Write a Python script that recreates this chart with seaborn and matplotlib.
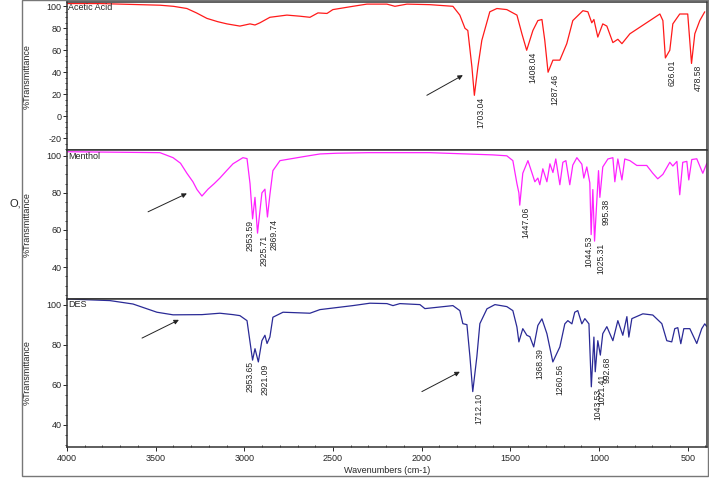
import numpy as np
import pandas as pd
import matplotlib
matplotlib.use("Agg")
import matplotlib.pyplot as plt
import matplotlib.ticker as mticker
from matplotlib.patches import Rectangle
import seaborn as sns

sns.set_style("ticks")
plt.rcParams["font.family"] = ["Liberation Sans", "DejaVu Sans"]
plt.rcParams["axes.unicode_minus"] = False

# --- spectra: wavenumber (cm-1), %T ------------------------------------------
acetic_wn = [4000, 3814, 3476, 3400, 3324, 3270, 3211, 3150, 3098, 3025, 2968,
             2940, 2912, 2856,
             2760, 2687, 2630, 2585, 2534, 2501, 2388, 2309, 2196, 2151, 2083,
             1954, 1824, 1785, 1756, 1740, 1717, 1703.04, 1683, 1661, 1616,
             1576, 1520, 1463, 1435, 1408.04, 1373, 1345, 1322, 1306, 1287.46,
             1260, 1221, 1182, 1148, 1091, 1063, 1041, 1029, 1007, 979, 956,
             922, 894, 871, 826, 657, 640, 626.01, 601, 584, 545, 500, 478.58,
             460, 432, 404]
acetic_t = [102.5, 102.5, 101, 100, 98, 94, 89, 86, 84, 82, 84,
            83, 85, 90,
            92, 91, 90, 94, 93.5, 97, 100, 102, 102, 100, 102,
            101.5, 100, 92, 80, 78, 45, 19, 45, 69, 95,
            98, 97, 92, 75, 60, 78, 87, 88, 69, 40,
            51, 51, 66, 87, 96, 95, 85, 88, 72, 84, 82,
            67, 70, 66, 75, 93, 87, 53, 60, 84, 93, 93, 48,
            75, 87, 95]

menthol_wn = [4000, 3476, 3402, 3360, 3324, 3290, 3267, 3239, 3205, 3170, 3138,
              3100, 3064, 3025, 3008,
              2985, 2968, 2953.59, 2940, 2925.71, 2901, 2884, 2869.74, 2856,
              2839, 2799, 2670, 2574, 2478, 2300, 1954, 1599, 1520, 1486, 1463,
              1452, 1447.06, 1430, 1401, 1379, 1362, 1345, 1334, 1317, 1294,
              1277, 1260, 1244, 1221, 1204, 1187, 1165, 1148, 1125, 1097, 1086,
              1069, 1052, 1044.53, 1035, 1025.31, 1003, 995.38, 979, 950, 922,
              911, 894, 871, 855, 826, 787, 731, 697, 669, 640, 601, 584, 561,
              545, 528, 505, 494, 477, 449, 415, 392]
menthol_t = [102.2, 101.7, 99, 96, 90.6, 86, 81.8, 78.3, 82, 85, 88,
             92, 95.7, 98, 99,
             98.5, 85, 66, 77.6, 58.3, 80, 82, 67, 79,
             92, 97.4, 99.5, 101, 101.4, 101.7, 101.7, 100.5, 100, 97.4, 85,
             80, 73.4, 90.6, 97.4, 91, 86, 88, 84.4, 93, 86,
             95.7, 91, 98.3, 84.4, 96.5, 97.4, 84.4, 95, 99, 95.5, 88,
             94, 85.4, 57.5, 81.8, 54, 92, 77.6, 94, 98.3, 99,
             86, 98.3, 87, 98.3, 97.4, 94.8, 94.8, 90.6, 87.6, 90, 96.5, 94.5, 97,
             79, 96.5, 97, 87, 98, 98.4, 90.6, 96]

des_wn = [4000, 3758, 3628, 3493, 3402, 3239, 3138, 3064, 3025, 2985, 2953.65,
          2940, 2921.09, 2901, 2884, 2872, 2856, 2839, 2782, 2630, 2574, 2388,
          2292, 2196, 2162, 2123, 2010, 1982, 1824, 1785, 1768, 1745, 1728,
          1712.10, 1689, 1672, 1632, 1587, 1520, 1486, 1463, 1452, 1430, 1407,
          1390, 1368.39, 1345, 1322, 1294, 1260.56, 1221, 1193, 1176, 1153,
          1137, 1120, 1097, 1080, 1057, 1043.53, 1029, 1021.41, 1007, 992.68,
          979, 956, 939, 922, 894, 866, 843, 832, 815, 753, 697, 646, 618, 590,
          573, 556, 539, 522, 488, 449, 421, 404, 392]
des_t = [102.8, 102, 100.3, 96.2, 94.9, 95, 95.7, 95, 94.5, 92, 72.3,
         78, 71.4, 82, 84.7, 80.6, 83.8, 93.7, 96.2, 95.7, 97.5, 99.5,
         100.7, 100.5, 99.5, 100.5, 100, 98, 99.5, 97, 90.5, 90, 74,
         56.6, 74, 90.5, 97.9, 100, 99, 97, 88.8, 81.4, 88, 84.7,
         84, 78.9, 89.6, 92.9, 85.5, 71.4, 78.9, 90.4, 92, 90.4,
         96.2, 97, 90.4, 93, 90.4, 59, 83.8, 66.5, 82, 74.8,
         85.5, 89, 85.5, 82, 92, 84.7, 94, 83.8, 93, 95.4, 94.8, 90.5, 82, 81.4,
         88, 88.5, 80.5, 88, 88, 80.6, 88, 90.4, 89]

acetic_peaks = [1703.04, 1408.04, 1287.46, 626.01, 478.58]
menthol_peaks = [2953.59, 2925.71, 2869.74, 1447.06, 1044.53, 1025.31, 995.38]
des_peaks = [2953.65, 2921.09, 1712.10, 1368.39, 1260.56, 1043.53, 1021.41, 992.68]
right_aligned = [2953.59, 1044.53, 2953.65]

panels = [
    ("Acetic Acid", acetic_wn, acetic_t, acetic_peaks, "#ff1a1a", (-31, 104),
     [-20, 0, 20, 40, 60, 80, 100],
     [((1971, 19), (1768, 37.3))]),
    ("Menthol", menthol_wn, menthol_t, menthol_peaks, "#ff22ff", (23, 103),
     [40, 60, 80, 100],
     [((3543, 69.8), (3324, 79.7))]),
    ("DES", des_wn, des_t, des_peaks, "#2a2a96", (29, 103),
     [40, 60, 80, 100],
     [((3577, 83.3), (3369, 92.4)), ((1999, 56.6), (1785, 66.5))]),
]

fig, axes = plt.subplots(3, 1, sharex=True, figsize=(7.09, 4.78), dpi=100)
fig.subplots_adjust(left=0.0945, right=0.997, top=0.996, bottom=0.065, hspace=0)

for ax, (name, wn, t, peaks, color, ylim, yticks, arrows) in zip(axes, panels):
    df = pd.DataFrame({"wn": wn, "T": t})
    sns.lineplot(data=df, x="wn", y="T", ax=ax, color=color, lw=0.9,
                 estimator=None)
    ax.set_ylim(*ylim)
    ax.set_yticks(yticks)
    ax.yaxis.set_minor_locator(mticker.MultipleLocator(5))
    ax.tick_params(axis="y", which="major", direction="out", length=3,
                   width=0.7, labelsize=6.5, pad=1)
    ax.tick_params(axis="y", which="minor", direction="out", length=1.5,
                   width=0.6)
    ax.set_ylabel("%Transmittance", fontsize=6.5, va="center")
    ax.yaxis.set_label_coords(-0.0625, 0.5)
    ax.set_xlabel("")
    for sp in ax.spines.values():
        sp.set_linewidth(1.1)
        sp.set_color("#333333")
    ax.text(0.002, 0.99, name, transform=ax.transAxes, ha="left", va="top",
            fontsize=6.5)

    # peak labels
    xs = np.array(wn)[::-1]
    ys = np.array(t)[::-1]
    for p in peaks:
        py = np.interp(p, xs, ys)
        if p in right_aligned:
            ax.annotate(f"{p:.2f}", xy=(p, py), xytext=(1.5, -0.5),
                        textcoords="offset points", rotation=90, ha="right",
                        va="top", fontsize=6.2)
        else:
            ax.annotate(f"{p:.2f}", xy=(p, py), xytext=(1.5, -1.2),
                        textcoords="offset points", rotation=90, ha="left",
                        va="top", fontsize=6.2)

    for tail, head in arrows:
        ax.annotate("", xy=head, xytext=tail,
                    arrowprops=dict(arrowstyle="-|>", color="#222222", lw=0.7,
                                    mutation_scale=7, shrinkA=0, shrinkB=0))

axes[-1].set_xlim(4000, 392)
axes[-1].set_xticks([4000, 3500, 3000, 2500, 2000, 1500, 1000, 500])
axes[-1].xaxis.set_minor_locator(mticker.MultipleLocator(100))
axes[-1].tick_params(axis="x", which="major", direction="out", length=3,
                     width=0.7, labelsize=6.5, pad=2)
axes[-1].tick_params(axis="x", which="minor", direction="in", length=1.5,
                     width=0.6)
axes[-1].set_xlabel("Wavenumbers (cm-1)", fontsize=6.5, labelpad=2)
for ax in axes[:-1]:
    ax.tick_params(axis="x", which="both", bottom=False, labelbottom=False)

# outer frame and stray mark on the left
fig.patches.append(Rectangle((0.031, 0.004), 0.968, 0.995,
                             transform=fig.transFigure, fill=False,
                             ec="#777777", lw=1.0))
fig.text(0.014, 1 - 203 / 478, "O,", fontsize=8, ha="left", va="center")

fig.savefig("out.png", dpi=100)
